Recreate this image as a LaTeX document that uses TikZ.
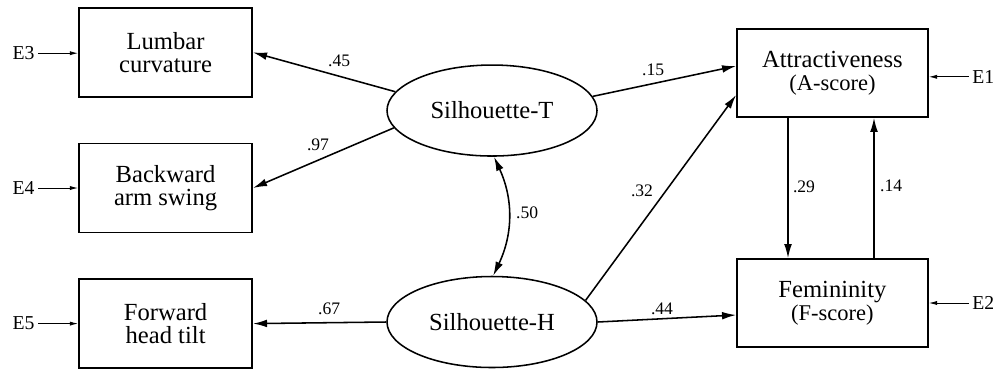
\documentclass[tikz,border=0pt]{standalone}
\usepackage{fontspec}
\setmainfont{Liberation Serif}
\usetikzlibrary{arrows.meta,shapes.geometric}

\begin{document}
\begin{tikzpicture}[
    line width=1.1pt,
    box/.style={draw, align=center, minimum width=4.33cm, minimum height=2.22cm,
                font=\fontsize{17.5}{16.5}\selectfont},
    outbox/.style={box, minimum width=4.775cm, minimum height=2.2cm},
    latent/.style={draw, ellipse, minimum width=5.25cm, minimum height=2.275cm,
                   inner sep=0pt, font=\fontsize{17.5}{18}\selectfont},
    path/.style={-{Latex[length=10pt, width=5.5pt]}},
    err/.style={font=\fontsize{14}{15}\selectfont, inner sep=2pt},
    errarrow/.style={line width=0.7pt, -{Latex[length=6pt, width=3pt]}},
    coef/.style={font=\fontsize{12.5}{13}\selectfont}
]
\useasboundingbox (0,0) rectangle (25.125,-9.225);

% ============================
% Indicators (left column)
% ============================
\node[box] (lumbar)   at (4.14,-1.31) {Lumbar\\curvature};
\node[box] (backward) at (4.14,-4.70) {Backward\\arm swing};
\node[box] (forward)  at (4.14,-8.09) {Forward\\head tilt};

% ============================
% Latent factors
% ============================
\node[latent] (silT) at (12.30,-2.763) {Silhouette-T};
\node[latent] (silH) at (12.30,-8.05)  {Silhouette-H};

% ============================
% Outcomes (right column)
% ============================
\node[outbox] (attr) at (20.81,-1.825) {Attractiveness\\{\fontsize{16}{16}\selectfont (A-score)}};
\node[outbox] (fem)  at (20.81,-7.575) {Femininity\\{\fontsize{16}{16}\selectfont (F-score)}};

% ============================
% Error terms
% ============================
\node[err, anchor=east] (e3) at (0.95,-1.33) {E3};
\node[err, anchor=east] (e4) at (0.95,-4.70) {E4};
\node[err, anchor=east] (e5) at (0.95,-8.09) {E5};
\node[err, anchor=west] (e1) at (24.22,-1.92) {E1};
\node[err, anchor=west] (e2) at (24.22,-7.575) {E2};

\draw[errarrow] (e3) -- (e3 -| lumbar.west);
\draw[errarrow] (e4) -- (backward.west);
\draw[errarrow] (e5) -- (forward.west);
\draw[errarrow] (e1) -- (e1 -| attr.east);
\draw[errarrow] (e2) -- (fem.east);

% ============================
% Loadings
% ============================
\draw[path] (silT.169) -- (lumbar.east);
\node at (8.48,-1.53) [coef] {.45};

\draw[path] (silT.190) -- (backward.east);
\node at (7.95,-3.63) [coef] {.97};

\draw[path] (silH.west) -- (forward.east);
\node at (8.23,-7.73) [coef] {.67};

% Correlation between factors
\draw[{Latex[length=10pt, width=5.5pt]}-{Latex[length=10pt, width=5.5pt]}]
    ([xshift=0.05cm]silT.south) to[bend left=25] ([xshift=0.03cm]silH.north);
\node at (13.18,-5.33) [coef] {.50};

% ============================
% Structural paths
% ============================
\draw[path] (silT.8) -- ([yshift=0.175cm]attr.west);
\node at (16.33,-1.75) [coef] {.15};

\draw[path] (silH.13) -- ([yshift=-0.55cm]attr.west);
\node at (16.05,-4.78) [coef] {.32};

\draw[path] (silH.east) -- ([yshift=-0.3cm]fem.west);
\node at (16.55,-7.72) [coef] {.44};

\draw[path] ([xshift=-1.11cm]attr.south) -- ([xshift=-1.11cm]fem.north);
\node at (20.10,-4.68) [coef] {.29};

\draw[path] ([xshift=1.04cm]fem.north) -- ([xshift=1.04cm]attr.south);
\node at (22.28,-4.65) [coef] {.14};

\end{tikzpicture}
\end{document}
